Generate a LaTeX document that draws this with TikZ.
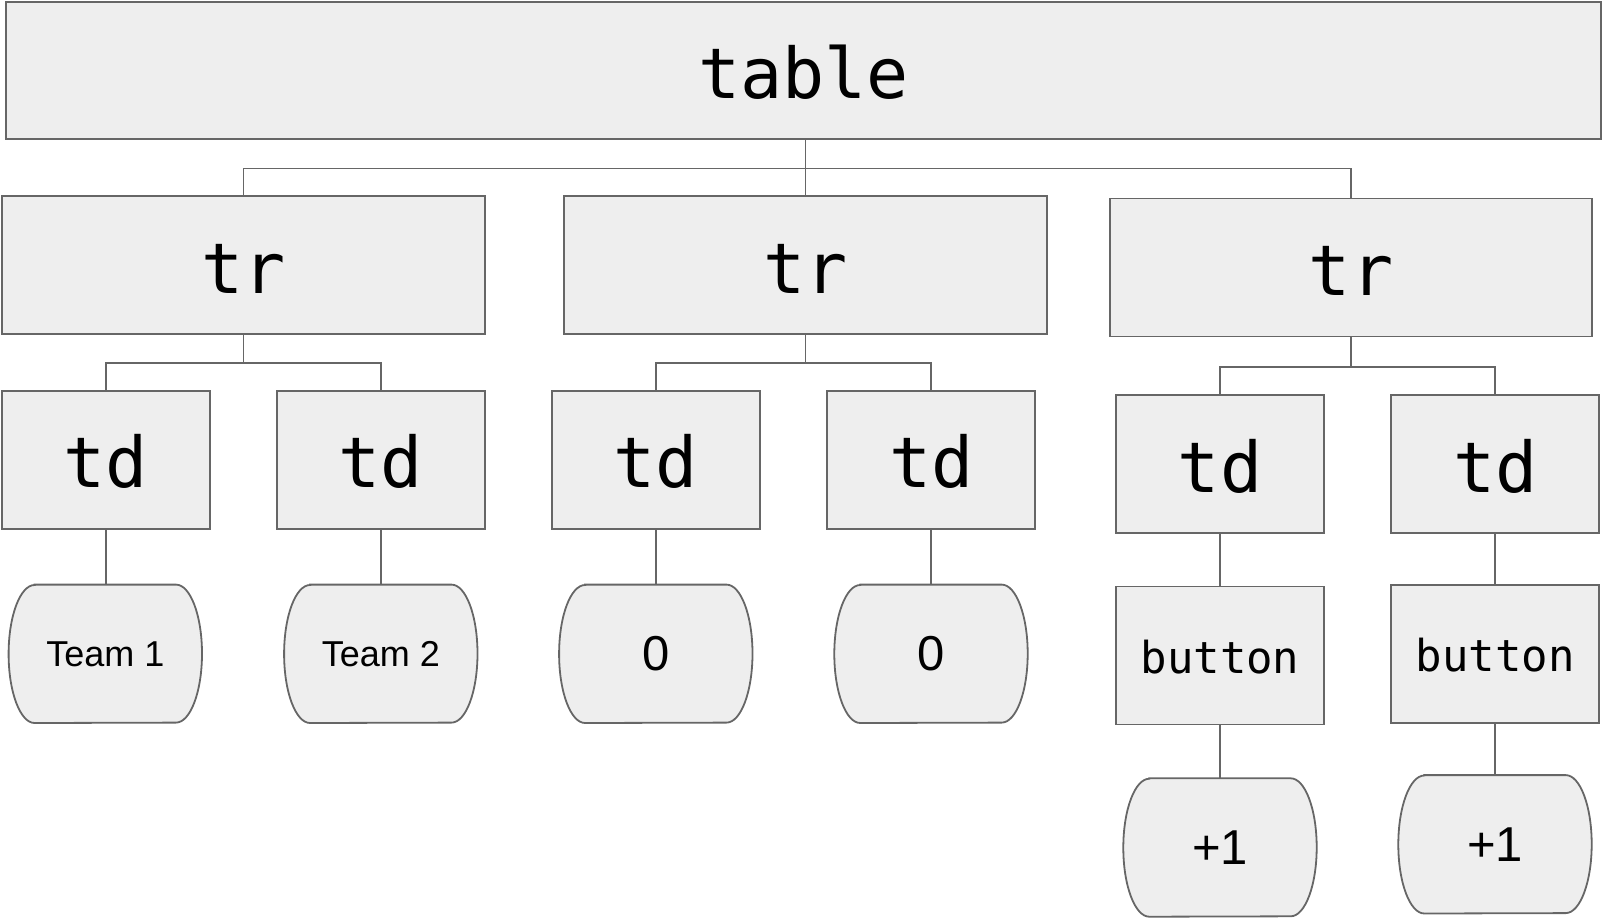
\documentclass[tikz,border=0pt]{standalone}
\usepackage{fontspec}
\setmainfont{Liberation Sans}
\setmonofont{DejaVu Sans Mono}
\pgfdeclarelayer{background}
\pgfsetlayers{background,main}
\definecolor{boxfill}{HTML}{EEEEEE}
\definecolor{boxline}{HTML}{666666}
\newcommand\leafoutline[1]{%
  \path[leafline] ([xshift=26pt]#1.north west) -- ([xshift=-26pt]#1.north east)
    arc[start angle=90, end angle=-90, x radius=26pt, y radius=69pt]
    -- ([xshift=26pt]#1.south west)
    arc[start angle=270, end angle=90, x radius=26pt, y radius=69pt] -- cycle;}
\begin{document}
\begin{tikzpicture}[x=1pt,y=-1pt,
  tag/.style={draw=boxline, fill=boxfill, line width=1.8pt, inner sep=0pt,
    text height=56pt, text depth=0pt,
    font=\ttfamily\fontsize{70}{84}\selectfont},
  tdbox/.style={tag, minimum width=208pt, minimum height=138pt},
  btnbox/.style={tdbox, text height=35pt, text depth=0pt,
    font=\ttfamily\fontsize{44}{53}\selectfont},
  leaf/.style={inner sep=0pt, minimum width=193pt, minimum height=138pt},
  leafA/.style={leaf, font=\fontsize{36}{43}\selectfont},
  leafB/.style={leaf, font=\fontsize{49}{59}\selectfont},
  leafline/.style={draw=boxline, fill=boxfill, line width=1.8pt},
  conn/.style={draw=boxline, line width=1.8pt}]
\useasboundingbox (0,0) rectangle (1604,919);

% top
\node[tag, minimum width=1595pt, minimum height=137pt] (table) at (803.5,70.5) {table};
% rows
\node[tag, minimum width=483pt, minimum height=137.5pt] (tr1) at (243.5,265) {tr};
\node[tag, minimum width=483pt, minimum height=137.5pt] (tr2) at (805.5,265) {tr};
\node[tag, minimum width=482pt, minimum height=138pt] (tr3) at (1351,267.5) {tr};
% cells
\node[tdbox] (td1) at (105.8,459.7) {td};
\node[tdbox] (td2) at (380.8,459.7) {td};
\node[tdbox] (td3) at (655.9,459.7) {td};
\node[tdbox] (td4) at (931.2,459.7) {td};
\node[tdbox] (td5) at (1220,464) {td};
\node[tdbox] (td6) at (1495.2,464) {td};
% buttons
\node[btnbox] (b1) at (1220,655.5) {button};
\node[btnbox] (b2) at (1495.2,654.2) {button};
% leaves
\node[leafA] (t1) at (105.3,653.8) {Team 1};
\node[leafA] (t2) at (380.8,653.8) {Team 2};
\node[leafB] (z1) at (655.8,653.8) {0};
\node[leafB] (z2) at (931,653.8) {0};
\node[leafB] (p1) at (1220,847.5) {+1};
\node[leafB] (p2) at (1495,844.3) {+1};

\begin{pgfonlayer}{background}
\foreach \n in {t1,t2,z1,z2,p1,p2} {\leafoutline{\n}}
\end{pgfonlayer}

% connectors
\coordinate (bus0) at (805,168.5);
\draw[conn] (table.south -| tr2.north) -- (tr2.north);
\draw[conn] (tr1.north) |- (bus0) -| (tr3.north);

\draw[conn] (tr1.south) -- ++(0,28) -| (td1.north);
\draw[conn] (tr1.south) -- ++(0,28) -| (td2.north);
\draw[conn] (tr2.south) -- ++(0,28) -| (td3.north);
\draw[conn] (tr2.south) -- ++(0,28) -| (td4.north);
\draw[conn] (tr3.south) -- ++(0,29.5) -| (td5.north);
\draw[conn] (tr3.south) -- ++(0,29.5) -| (td6.north);

\draw[conn] (td1.south) -- (td1.south |- t1.north);
\draw[conn] (td2.south) -- (td2.south |- t2.north);
\draw[conn] (td3.south) -- (td3.south |- z1.north);
\draw[conn] (td4.south) -- (td4.south |- z2.north);
\draw[conn] (td5.south) -- (td5.south |- b1.north);
\draw[conn] (td6.south) -- (td6.south |- b2.north);
\draw[conn] (b1.south) -- (b1.south |- p1.north);
\draw[conn] (b2.south) -- (b2.south |- p2.north);
\end{tikzpicture}
\end{document}
